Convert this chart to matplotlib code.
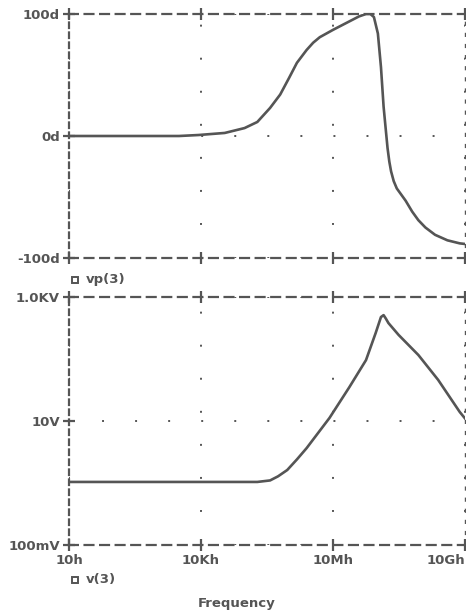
import numpy as np
import matplotlib.pyplot as plt
from matplotlib.lines import Line2D

# AC sweep of node 3: phase (deg) and magnitude (V) vs. frequency (log10 Hz)
phase_logf = [1.0, 3.5, 3.94, 4.54, 4.99, 5.28, 5.57, 5.80, 6.0, 6.18, 6.40,
              6.55, 6.70, 7.0, 7.30, 7.59, 7.75, 7.85, 7.93, 8.02, 8.09, 8.15,
              8.20, 8.24, 8.28, 8.32, 8.38, 8.45, 8.55, 8.65, 8.8, 8.94, 9.1,
              9.32, 9.6, 9.88, 10.0]
phase_deg = [0, 0, 0.8, 2.5, 6.5, 11.5, 23, 34, 47.5, 60, 70.5,
             76.5, 81, 87, 92.6, 98, 100, 100, 97.5, 84, 56.5, 24,
             5, -10, -21, -29, -37, -43, -48, -53, -62, -69, -75,
             -81, -85.5, -88, -88.5]

mag_logf = [1.0, 5.28, 5.57, 5.75, 5.96, 6.18, 6.40, 6.92, 7.37, 7.75, 7.97,
            8.09, 8.15, 8.2, 8.26, 8.49, 8.94, 9.39, 9.88, 10.0]
mag_v = [1.04, 1.04, 1.1, 1.28, 1.62, 2.4, 3.65, 11.2, 35, 96, 263,
         475, 510, 450, 380, 245, 116, 46, 14, 11]

x_ticks = [1e1, 1e4, 1e7, 1e10]
x_labels = ['10h', '10Kh', '10Mh', '10Gh']
phase_ticks = [-100, 0, 100]
phase_labels = ['-100d', '0d', '100d']
mag_ticks = [0.1, 10, 1000]
mag_labels = ['100mV', '10V', '1.0KV']

ink = '#555555'
plt.rcParams['font.family'] = 'DejaVu Sans'
plt.rcParams['font.weight'] = 'bold'
plt.rcParams['font.size'] = 9.5

fig = plt.figure(figsize=(4.66, 6.14), dpi=100)
W, H = 466, 614
left, right = 69 / W, 465 / W
ax1 = fig.add_axes([left, 1 - 258 / H, right - left, (258 - 14) / H])
ax2 = fig.add_axes([left, 1 - 545 / H, right - left, (545 - 297) / H])


def style(ax):
    ax.set_xscale('log')
    ax.set_xlim(1e1, 1e10)
    ax.set_xticks(x_ticks)
    ax.minorticks_off()
    for s in ax.spines.values():
        s.set_linestyle((0, (4, 3)))
        s.set_color(ink)
        s.set_linewidth(1.6)
    ax.spines['left'].set_linestyle((0, (2.5, 2)))
    ax.spines['right'].set_linestyle((0, (2, 6)))
    ax.spines['right'].set_linewidth(1.0)
    ax.tick_params(direction='inout', length=9, width=1.6, color=ink,
                   labelcolor=ink, pad=2, top=True)
    ax.grid(True, color=ink, linestyle=(0, (1, 16)), linewidth=1.4)


style(ax1)
ax1.plot(10.0 ** np.array(phase_logf), phase_deg, color=ink, lw=1.9)
ax1.set_ylim(-100, 100)
ax1.set_yticks(phase_ticks)
ax1.set_yticklabels(phase_labels)
ax1.tick_params(labelbottom=False)

style(ax2)
ax2.plot(10.0 ** np.array(mag_logf), mag_v, color=ink, lw=1.9)
ax2.set_yscale('log')
ax2.set_ylim(0.1, 1000)
ax2.set_yticks(mag_ticks)
ax2.set_yticklabels(mag_labels)
ax2.minorticks_off()
ax2.set_xticklabels(x_labels)
xl = ax2.get_xticklabels()
xl[-1].set_horizontalalignment('right')

# trace legends under each panel
for yy, name in [(280, 'vp(3)'), (580, 'v(3)')]:
    fig.add_artist(Line2D([75 / W], [1 - yy / H], marker='s', markersize=4,
                          markerfacecolor='white', markeredgecolor=ink,
                          markeredgewidth=1.4, transform=fig.transFigure))
    fig.text(86 / W, 1 - yy / H, name, color=ink, va='center', ha='left')

fig.text(237 / W, 1 - 603 / H, 'Frequency', color=ink, ha='center', va='center')

fig.savefig('out.png', dpi=100, facecolor='white')
